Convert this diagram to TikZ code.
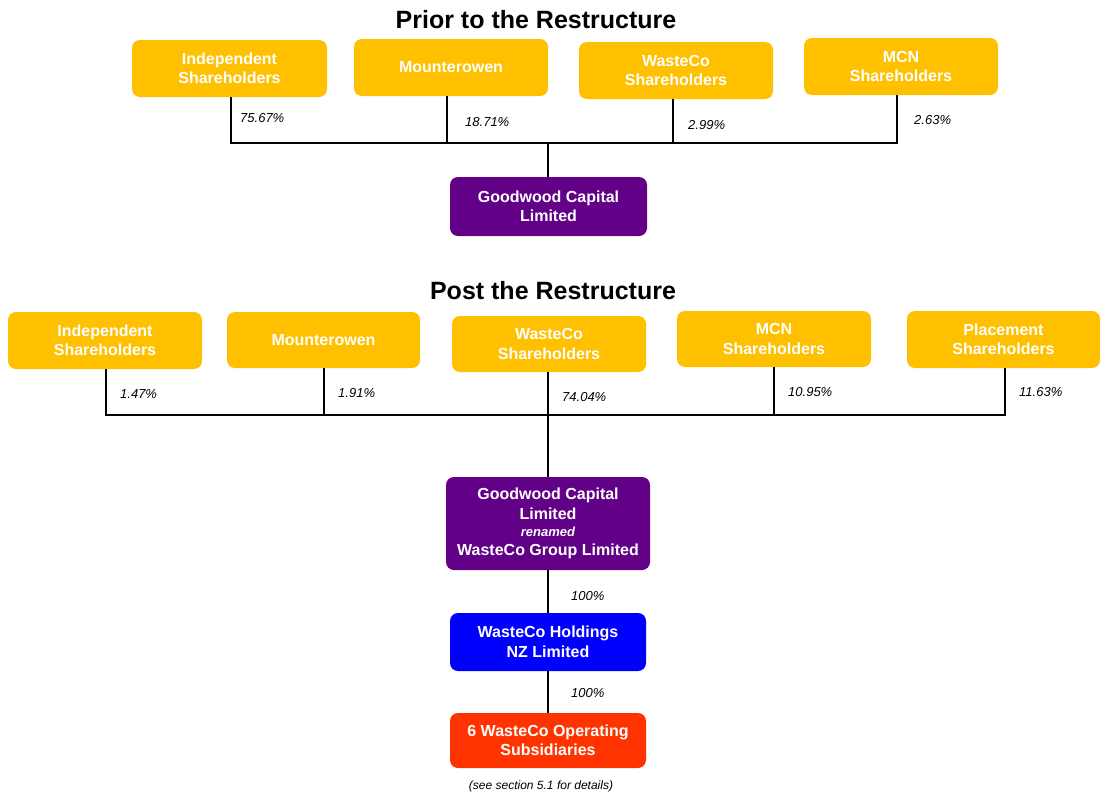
\documentclass[tikz,border=0pt]{standalone}
\usepackage{fontspec}
\setmainfont{Liberation Sans}
\definecolor{gold}{HTML}{FFC000}
\definecolor{gpurple}{HTML}{620088}
\definecolor{gblue}{HTML}{0000FF}
\definecolor{gred}{HTML}{FF3300}
\tikzset{
  box/.style={rectangle, rounded corners=8pt, text=white, align=center, inner sep=0pt,
    font=\fontsize{16}{19.5}\selectfont\bfseries},
  shbox/.style={box, fill=gold},
  pct/.style={font=\fontsize{13}{15}\selectfont\itshape, anchor=west, inner sep=0pt},
  ttl/.style={font=\fontsize{25}{28}\selectfont\bfseries, inner sep=0pt},
  conn/.style={line width=1.3pt, draw=black}
}
\begin{document}
\begin{tikzpicture}[x=1pt,y=-1pt]
\useasboundingbox (0,0) rectangle (1100,793);
\fill[white] (0,0) rectangle (1100,793);

% ---------- Prior ----------
\node[ttl] (t1) at (536,20) {Prior to the Restructure};
\node[shbox, minimum width=195pt, minimum height=57pt] (ind1) at (229.5,68.5) {Independent\\Shareholders};
\node[shbox, minimum width=194pt, minimum height=57pt] (mou1) at (451,67.5) {Mounterowen};
\node[shbox, minimum width=194pt, minimum height=57pt] (wco1) at (676,70.5) {WasteCo\\Shareholders};
\node[shbox, minimum width=194pt, minimum height=57pt] (mcn1) at (901,66.5) {MCN\\Shareholders};
\node[box, fill=gpurple, minimum width=197pt, minimum height=59pt] (gw1) at (548.5,206.5) {Goodwood Capital\\Limited};
\coordinate (bus1) at (548,143);

\draw[conn] ([xshift=1.5pt]ind1.south) -- ([xshift=1.5pt]ind1.south |- bus1) -- ([xshift=-4pt]mcn1.south |- bus1) -- ([xshift=-4pt]mcn1.south);
\draw[conn] ([xshift=-4pt]mou1.south) -- ([xshift=-4pt]mou1.south |- bus1);
\draw[conn] ([xshift=-3pt]wco1.south) -- ([xshift=-3pt]wco1.south |- bus1);
\draw[conn] (gw1.north -| bus1) -- (bus1);

\node[pct] (p1a) at (240,118) {75.67\%};
\node[pct] (p1b) at (465,122) {18.71\%};
\node[pct] (p1c) at (688,125) {2.99\%};
\node[pct] (p1d) at (914,120) {2.63\%};

% ---------- Post ----------
\node[ttl] (t2) at (553,291) {Post the Restructure};
\node[shbox, minimum width=194pt, minimum height=57pt] (ind2) at (105,340.5) {Independent\\Shareholders};
\node[shbox, minimum width=193pt, minimum height=56pt] (mou2) at (323.5,340) {Mounterowen};
\node[shbox, minimum width=194pt, minimum height=56pt] (wco2) at (549,344) {WasteCo\\Shareholders};
\node[shbox, minimum width=194pt, minimum height=56pt] (mcn2) at (774,339) {MCN\\Shareholders};
\node[shbox, minimum width=193pt, minimum height=57pt] (pla2) at (1003.5,339.5) {Placement\\Shareholders};
\coordinate (bus2) at (548,415);

\node[box, fill=gpurple, minimum width=204pt, minimum height=93pt] (gw2) at (548,523.5)
  {Goodwood Capital\\Limited\\[-2pt]{\fontsize{13}{15}\selectfont\itshape renamed}\\[-1pt]WasteCo Group Limited};
\node[box, fill=gblue, minimum width=196pt, minimum height=58pt] (hold) at (548,642) {WasteCo Holdings\\NZ Limited};
\node[box, fill=gred, minimum width=196pt, minimum height=55pt] (subs) at (548,740.5) {6 WasteCo Operating\\Subsidiaries};

\draw[conn] ([xshift=1pt]ind2.south) -- ([xshift=1pt]ind2.south |- bus2) -- ([xshift=1.5pt]pla2.south |- bus2) -- ([xshift=1.5pt]pla2.south);
\draw[conn] ([xshift=0.5pt]mou2.south) -- ([xshift=0.5pt]mou2.south |- bus2);
\draw[conn] (wco2.south -| bus2) -- (gw2.north -| bus2);
\draw[conn] (mcn2.south) -- (mcn2.south |- bus2);
\draw[conn] (gw2.south) -- (hold.north);
\draw[conn] (hold.south) -- (subs.north);

\node[pct] (p2a) at (120,394) {1.47\%};
\node[pct] (p2b) at (338,393) {1.91\%};
\node[pct] (p2c) at (562,397) {74.04\%};
\node[pct] (p2d) at (788,392) {10.95\%};
\node[pct] (p2e) at (1019,392) {11.63\%};

\node[pct] (p3a) at (571,596) {100\%};
\node[pct] (p3b) at (571,693) {100\%};
\node[font=\fontsize{12}{14}\selectfont\itshape, inner sep=0pt] (note) at (541,786) {(see section 5.1 for details)};
\end{tikzpicture}
\end{document}
